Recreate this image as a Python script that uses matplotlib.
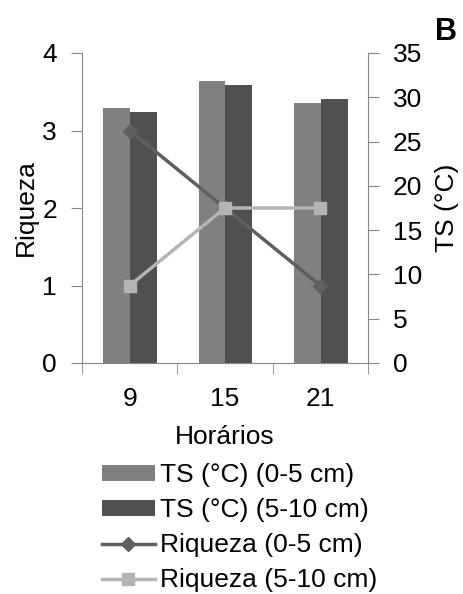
import matplotlib
matplotlib.use("Agg")
import matplotlib.pyplot as plt
import numpy as np

plt.rcParams['font.family'] = ['Liberation Sans', 'DejaVu Sans']

categories = ["9", "15", "21"]
ts_0_5 = [28.8, 31.8, 29.3]
ts_5_10 = [28.3, 31.35, 29.85]
riq_0_5 = [3.0, 2.0, 1.0]
riq_5_10 = [1.0, 2.0, 2.0]

FS = 19

fig = plt.figure(figsize=(4.64, 5.94), dpi=100)
ax = fig.add_axes([82/464, 1-363/594, (368-82)/464, (363-53)/594])
ax2 = ax.twinx()

x = np.arange(len(categories))
w = 0.28
b1 = ax2.bar(x - 0.135, ts_0_5, width=w, color='#808080', label='TS (°C) (0-5 cm)')
b2 = ax2.bar(x + 0.145, ts_5_10, width=w, color='#505050', label='TS (°C) (5-10 cm)')
l1, = ax.plot(x, riq_0_5, color='#5f5f5f', lw=2.5, marker='D', ms=7, label='Riqueza (0-5 cm)')
l2, = ax.plot(x, riq_5_10, color='#b4b4b4', lw=2.5, marker='s', ms=9, label='Riqueza (5-10 cm)')

ax.set_zorder(ax2.get_zorder() + 1)
ax.patch.set_visible(False)

ax.set_xlim(-0.5, 2.5)
ax.set_ylim(0, 4)
ax2.set_ylim(0, 35)
ax.set_yticks([0, 1, 2, 3, 4])
ax2.set_yticks(range(0, 36, 5))

spc = '#868686'
for a in (ax, ax2):
    a.spines['top'].set_visible(False)
    for s in ('left', 'right', 'bottom'):
        a.spines[s].set_color(spc)
ax.spines['right'].set_visible(False)
ax2.spines['left'].set_visible(False)
ax2.spines['bottom'].set_visible(False)

ax.set_xticks(x)
ax.set_xticklabels(categories)
ax.set_xticks([-0.5, 0.5, 1.5, 2.5], minor=True)
ax.tick_params(axis='x', which='major', length=0, labelsize=FS, pad=17)
ax.tick_params(axis='x', which='minor', length=8, color=spc, direction='out')
ax.tick_params(axis='y', length=8, color=spc, labelsize=FS, pad=10)
ax2.tick_params(axis='y', length=8, color=spc, labelsize=FS, pad=10)

ax.set_xlabel('Horários', fontsize=FS, labelpad=10)
ax.set_ylabel('Riqueza', fontsize=FS, labelpad=3)
ax2.set_ylabel('TS (°C)', fontsize=FS, labelpad=9)

fig.text(446/464, 1-32/594, 'B', fontsize=22, fontweight='bold', ha='center', va='center')

fig.legend(handles=[b1, b2, l1, l2], loc='upper left', bbox_to_anchor=(102/464, 1-463/594),
           frameon=False, fontsize=FS, borderpad=0, borderaxespad=0,
           handlelength=2.0, handleheight=0.55, handletextpad=0.19, labelspacing=0.42)

fig.savefig('out.png', dpi=100)
